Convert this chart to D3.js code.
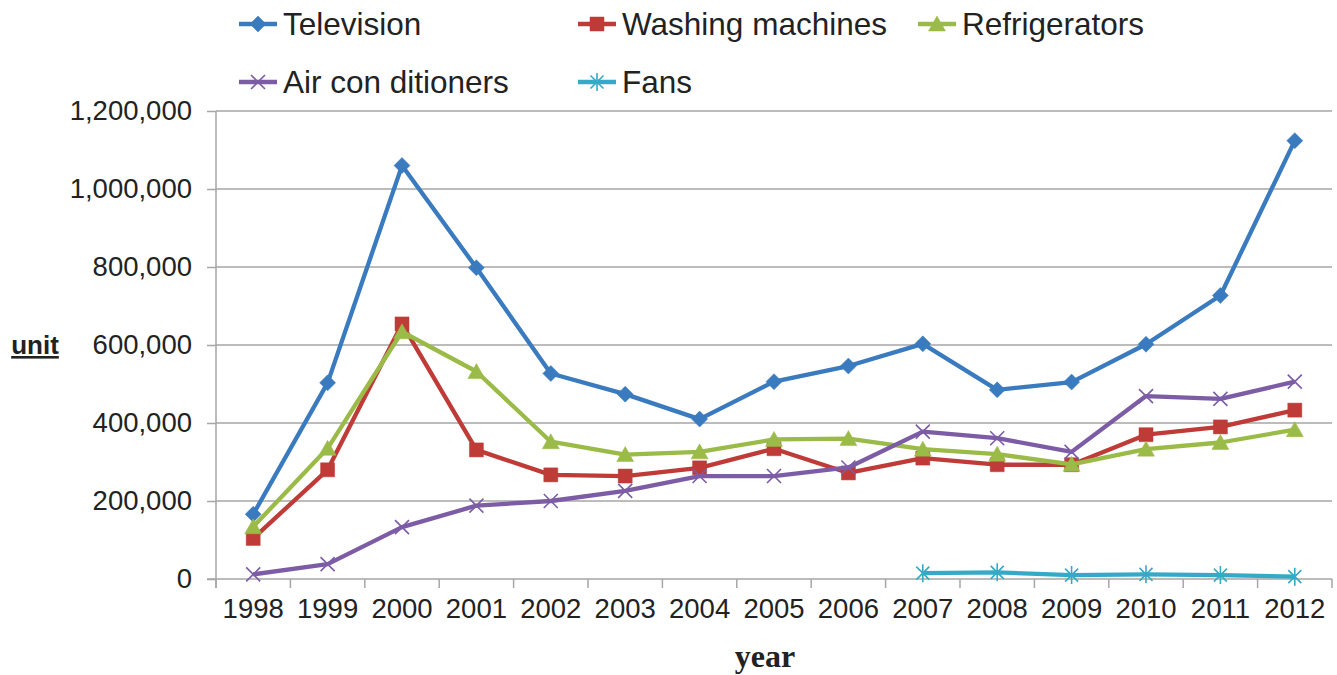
<!DOCTYPE html>
<html><head><meta charset="utf-8">
<script src="https://cdn.jsdelivr.net/npm/d3@7"></script>
<style>body{margin:0;background:#fff} svg{display:block}</style>
</head><body><svg id="c" width="1337" height="675"></svg>
<script>
const years = ["1998","1999","2000","2001","2002","2003","2004","2005","2006","2007","2008","2009","2010","2011","2012"];
const television      = [166000, 503000, 1060000, 798000, 527000, 474000, 410000, 506000, 546000, 603000, 485000, 505000, 602000, 727000, 1124000];
const washingMachines = [104000, 280000, 654000, 331000, 267000, 264000, 285000, 334000, 272000, 310000, 293000, 293000, 370000, 390000, 433000];
const refrigerators   = [134000, 335000, 634000, 532000, 352000, 319000, 326000, 358000, 360000, 333000, 320000, 294000, 333000, 350000, 383000];
const airConditioners = [12000, 38000, 133000, 188000, 200000, 226000, 264000, 264000, 286000, 378000, 361000, 326000, 469000, 462000, 506000];
const fans            = [null, null, null, null, null, null, null, null, null, 15000, 17000, 10000, 12000, 10000, 6000];
const seriesNames  = ["Television","Washing machines","Refrigerators","Air con ditioners","Fans"];
const seriesColors = ["#3a7bbf","#be3b37","#9bbb48","#7d5ca6","#35aac6"];
const yTicks = [0,200000,400000,600000,800000,1000000,1200000];

const seriesData = [television, washingMachines, refrigerators, airConditioners, fans];

(function () {
const svg = d3.select("#c");
const pL = 216, pR = 1332, pT = 111, pB = 579;
const x = d3.scaleBand().domain(years).range([pL, pR]);
const y = d3.scaleLinear().domain([0, 1200000]).range([pB, pT]);
const font = "'Liberation Sans', Arial, sans-serif";
const grey = "#a6a6a6";

// gridlines
svg.append("g").selectAll("line").data(yTicks.filter(d => d > 0)).join("line")
  .attr("x1", pL).attr("x2", pR).attr("y1", d => y(d)).attr("y2", d => y(d))
  .attr("stroke", grey).attr("stroke-width", 1.5);

// y axis
const yAxis = svg.append("g").attr("transform", `translate(${pL},0)`)
  .call(d3.axisLeft(y).tickValues(yTicks).tickFormat(d3.format(",")).tickSize(9).tickPadding(15));
yAxis.selectAll("line").attr("stroke", grey).attr("stroke-width", 1.5);
yAxis.select(".domain").attr("stroke", grey).attr("stroke-width", 1.5).attr("d", `M0,${pT}V${pB + 9}`);
yAxis.selectAll("text").attr("font-family", font).attr("font-size", 27.5).attr("fill", "#222");

// x axis
const xAxis = svg.append("g").attr("transform", `translate(0,${pB})`)
  .call(d3.axisBottom(x).tickSize(0).tickPadding(19));
xAxis.select(".domain").attr("stroke", grey).attr("stroke-width", 1.5).attr("d", `M${pL - 9},0H${pR}`);
xAxis.selectAll("text").attr("font-family", font).attr("font-size", 27.5).attr("fill", "#222");
const bounds = years.map(d => x(d)).concat([x.range()[1]]);
xAxis.append("g").selectAll("line").data(bounds).join("line")
  .attr("x1", d => d).attr("x2", d => d).attr("y1", 0).attr("y2", 9)
  .attr("stroke", grey).attr("stroke-width", 1.5);

// markers
function marker(sel, i, color) {
  const paths = [
    "M0,-8L8,0L0,8L-8,0Z",
    "M-7,-7H7V7H-7Z",
    "M0,-8L8.5,7H-8.5Z",
    "M-7,-7L7,7M-7,7L7,-7",
    "M-6.5,-6.5L6.5,6.5M-6.5,6.5L6.5,-6.5M0,-9V9"
  ];
  const filled = i < 3;
  sel.append("path").attr("d", paths[i])
    .attr("fill", filled ? color : "none")
    .attr("stroke", color).attr("stroke-width", filled ? 0.5 : 1.6);
}

const line = d3.line().defined(d => d.v != null)
  .x(d => x(d.year) + x.bandwidth() / 2).y(d => y(d.v));

seriesData.forEach((vals, i) => {
  const pts = years.map((yr, j) => ({year: yr, v: vals[j]}));
  const g = svg.append("g");
  g.append("path").datum(pts).attr("d", line).attr("fill", "none")
    .attr("stroke", seriesColors[i]).attr("stroke-width", 4.3).attr("stroke-linejoin", "round");
  pts.filter(d => d.v != null).forEach(d => {
    const m = g.append("g").attr("transform", `translate(${x(d.year) + x.bandwidth() / 2},${y(d.v)})`);
    marker(m, i, seriesColors[i]);
  });
});

// legend
const legendPos = [[239, 24], [578, 24], [918, 24], [239, 82], [578, 82]];
seriesNames.forEach((name, i) => {
  const [lx, ly] = legendPos[i];
  const g = svg.append("g").attr("transform", `translate(${lx},${ly})`);
  g.append("line").attr("x1", 0).attr("x2", 38).attr("y1", 0).attr("y2", 0)
    .attr("stroke", seriesColors[i]).attr("stroke-width", 4.3);
  const m = g.append("g").attr("transform", "translate(19,0)");
  marker(m, i, seriesColors[i]);
  g.append("text").attr("x", 44).attr("y", 0).attr("dy", "0.35em")
    .attr("font-family", font).attr("font-size", 31.5).attr("fill", "#222").text(name);
});

// axis titles
svg.append("text").attr("x", 35).attr("y", 354).attr("text-anchor", "middle")
  .attr("font-family", font).attr("font-weight", "bold").attr("font-size", 26)
  .attr("fill", "#222").attr("text-decoration", "underline").text("unit");
svg.append("text").attr("x", 765).attr("y", 667).attr("text-anchor", "middle")
  .attr("font-family", "'Liberation Serif', 'Times New Roman', serif").attr("font-weight", "bold")
  .attr("font-size", 32).attr("fill", "#222").text("year");
})();
</script></body></html>
